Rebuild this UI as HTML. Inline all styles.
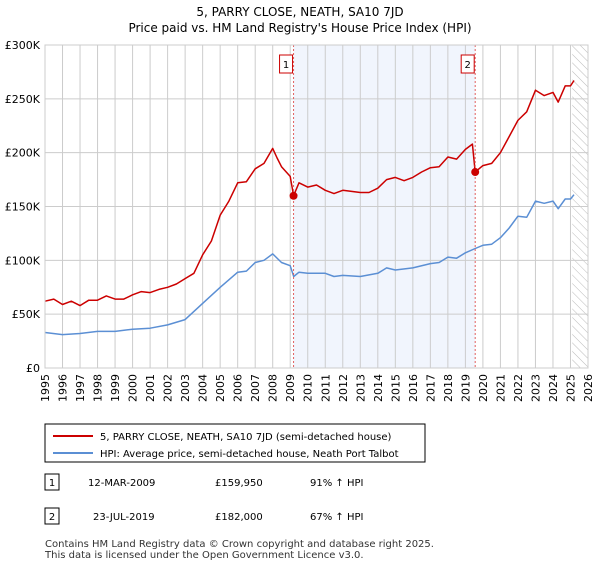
<!DOCTYPE html>
<html><head><meta charset="utf-8"><style>
body{margin:0;background:#fff;font-family:"Liberation Sans","DejaVu Sans",sans-serif;}
svg text{font-family:"DejaVu Sans","Liberation Sans",sans-serif;}
</style></head><body>
<svg width="600" height="560" viewBox="0 0 600 560">
<text x="300" y="16" font-size="12" text-anchor="middle">5, PARRY CLOSE, NEATH, SA10 7JD</text>
<text x="300" y="32" font-size="12" text-anchor="middle">Price paid vs. HM Land Registry's House Price Index (HPI)</text>
<g id="plot"></g>
<g>
<rect x="45" y="424" width="380" height="38" fill="#fff" stroke="#000" stroke-width="1"/>
<line x1="53" y1="436" x2="93" y2="436" stroke="#cc0000" stroke-width="2"/>
<text x="100" y="440" font-size="10">5, PARRY CLOSE, NEATH, SA10 7JD (semi-detached house)</text>
<line x1="53" y1="453" x2="93" y2="453" stroke="#5b8fd4" stroke-width="2"/>
<text x="100" y="457" font-size="10">HPI: Average price, semi-detached house, Neath Port Talbot</text>
</g>
<g font-size="10">
<rect x="45" y="474" width="14" height="16" fill="#fff" stroke="#000"/><text x="52" y="486" text-anchor="middle">1</text>
<text x="88" y="486">12-MAR-2009</text><text x="215" y="486">£159,950</text><text x="310" y="486">91% ↑ HPI</text>
<rect x="45" y="508" width="14" height="16" fill="#fff" stroke="#000"/><text x="52" y="520" text-anchor="middle">2</text>
<text x="93" y="520">23-JUL-2019</text><text x="215" y="520">£182,000</text><text x="310" y="520">67% ↑ HPI</text>
</g>
<text x="45" y="547" font-size="10" fill="#333">Contains HM Land Registry data © Crown copyright and database right 2025.</text>
<text x="45" y="558" font-size="10" fill="#333">This data is licensed under the Open Government Licence v3.0.</text>
</svg>
<script>
const yearTicks=[1995,1996,1997,1998,1999,2000,2001,2002,2003,2004,2005,2006,2007,2008,2009,2010,2011,2012,2013,2014,2015,2016,2017,2018,2019,2020,2021,2022,2023,2024,2025,2026];
const valueTicks=[0,50000,100000,150000,200000,250000,300000];
const valueTickLabels=["£0","£50K","£100K","£150K","£200K","£250K","£300K"];
const redYears=[1995,1995.5,1996,1996.5,1997,1997.5,1998,1998.5,1999,1999.5,2000,2000.5,2001,2001.5,2002,2002.5,2003,2003.5,2004,2004.5,2005,2005.5,2006,2006.5,2007,2007.5,2008,2008.25,2008.5,2009,2009.19,2009.5,2010,2010.5,2011,2011.5,2012,2012.5,2013,2013.5,2014,2014.5,2015,2015.5,2016,2016.5,2017,2017.5,2018,2018.5,2019,2019.4,2019.56,2020,2020.5,2021,2021.5,2022,2022.5,2023,2023.5,2024,2024.3,2024.7,2025,2025.2];
const redValues=[62,64,59,62,58,63,63,67,64,64,68,71,70,73,75,78,83,88,105,118,142,155,172,173,185,190,204,195,187,178,160,172,168,170,165,162,165,164,163,163,167,175,177,174,177,182,186,187,196,194,203,208,182,188,190,200,215,230,238,258,253,256,247,262,262,267];
const blueYears=[1995,1996,1997,1998,1999,2000,2001,2002,2003,2004,2005,2006,2006.5,2007,2007.5,2008,2008.5,2009,2009.2,2009.5,2010,2011,2011.5,2012,2013,2014,2014.5,2015,2016,2017,2017.5,2018,2018.5,2019,2019.56,2020,2020.5,2021,2021.5,2022,2022.5,2023,2023.5,2024,2024.3,2024.7,2025,2025.2];
const blueValues=[33,31,32,34,34,36,37,40,45,60,75,89,90,98,100,106,98,95,85,89,88,88,85,86,85,88,93,91,93,97,98,103,102,107,111,114,115,121,130,141,140,155,153,155,148,157,157,161];
const saleYears=[2009.19,2019.56];
const saleValues=[159950,182000];
const saleLabels=["1","2"];
const X0=45,X1=588,Y0=368,Y1=45;
const xs=y=>X0+(y-1995)/(2026-1995)*(X1-X0);
const ys=v=>Y0-v/300000*(Y0-Y1);
const NS="http://www.w3.org/2000/svg";
const g=document.getElementById('plot');
function mk(t,a){const e=document.createElementNS(NS,t);for(const k in a)e.setAttribute(k,a[k]);g.appendChild(e);return e;}
let e;
e=mk('rect',{x:xs(saleYears[0]),y:Y1,width:xs(saleYears[1])-xs(saleYears[0]),height:Y0-Y1,fill:'#eef3fc',opacity:0.8});


const defs=document.createElementNS(NS,'defs');defs.innerHTML='<pattern id="hatch" width="6" height="6" patternUnits="userSpaceOnUse" patternTransform="rotate(-45)"><line x1="0" y1="0" x2="0" y2="6" stroke="#bbb" stroke-width="1"/></pattern>';g.appendChild(defs);
e=mk('rect',{x:xs(2025.1),y:Y1,width:X1-xs(2025.1),height:Y0-Y1,fill:'url(#hatch)'});


yearTicks.forEach(yr=>{
 e=mk('line',{x1:xs(yr),x2:xs(yr),y1:Y1,y2:Y0,stroke:'#ccc','stroke-width':1});
 
 
 e=mk('text',{x:xs(yr)+4,y:Y0+6,'font-size':11,'text-anchor':'end',transform:`rotate(-90 ${xs(yr)+4} ${Y0+6})`});
 e.textContent=yr;
 
 
});
valueTicks.forEach((v,i)=>{
 e=mk('line',{x1:X0,x2:X1,y1:ys(v),y2:ys(v),stroke:'#ccc','stroke-width':1});
 
 
 e=mk('text',{x:X0-5,y:ys(v)+4,'font-size':11,'text-anchor':'end'});
 e.textContent=valueTickLabels[i];
 
 
});
function line(xa,va,col,name){
 const d=xa.map((x,i)=>(i?'L':'M')+xs(x).toFixed(1)+','+ys(va[i]*1000).toFixed(1)).join('');
 e=mk('path',{d:d,fill:'none',stroke:col,'stroke-width':1.5,'stroke-linejoin':'round'});
 
 
}
line(blueYears,blueValues,'#5b8fd4','hpi-line');
line(redYears,redValues,'#cc0000','price-paid-line');
saleYears.forEach((yr,i)=>{
 e=mk('line',{x1:xs(yr),x2:xs(yr),y1:Y1,y2:Y0,stroke:'#e06060','stroke-width':1,'stroke-dasharray':'2,2'});
 
 
 e=mk('circle',{cx:xs(yr),cy:ys(saleValues[i]),r:4,fill:'#cc0000'});
 
 
 e=mk('rect',{x:xs(yr)-14,y:55,width:13,height:18,fill:'#fff',stroke:'#cc0000'});
 
 
 e=mk('text',{x:xs(yr)-7.5,y:68,'font-size':10,'text-anchor':'middle'});
 e.textContent=saleLabels[i];
 
 
});
e=mk('rect',{x:X0,y:Y1,width:X1-X0,height:Y0-Y1,fill:'none',stroke:'#ccc'});


</script>
</body></html>
